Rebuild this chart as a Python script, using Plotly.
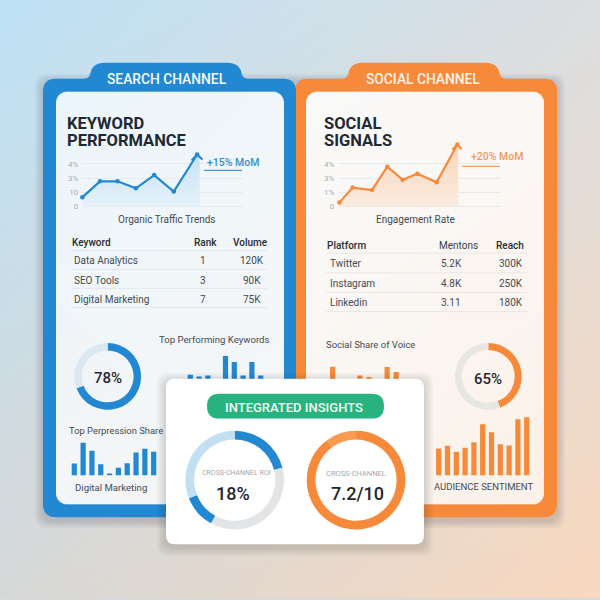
import base64, struct, zlib
import numpy as np
import plotly.graph_objects as go

# ---------- data ----------
BLUE, ORANGE, GREEN = "#2288d2", "#f68a3a", "#27b27f"
search_title = ["KEYWORD", "PERFORMANCE"]
social_title = ["SOCIAL", "SIGNALS"]

search_week = [0, 0.99, 1.98, 3.01, 4.04, 5.14, 6.45]
search_trend = [0.65, 1.77, 1.77, 1.28, 2.21, 1.05, 3.65]
search_fill_week = search_week + [6.6, 6.6]
search_fill = search_trend + [3.5, 0]
search_head_x = [6.15, 6.45, 6.75]
search_head_y = [3.25, 3.65, 3.30]
search_ticks = ["0", "10", "3%", "4%"]

social_week = [0.06, 0.86, 2.02, 2.94, 3.86, 4.74, 5.9, 7.14]
social_trend = [0.28, 1.33, 1.16, 2.79, 1.88, 2.30, 1.70, 4.35]
social_fill_week = social_week + [7.2, 7.2]
social_fill = social_trend + [4.2, 0]
social_head_x = [6.85, 7.14, 7.4]
social_head_y = [3.98, 4.35, 4.02]
social_ticks = ["0", "1%", "3%", "4%"]

search_head = ["Keyword", "Rank", "Volume"]
search_rows = [["Data Analytics", "1", "120K"], ["SEO Tools", "3", "90K"], ["Digital Marketing", "7", "75K"]]
social_head = ["Platform", "Mentons", "Reach"]
social_rows = [["Twitter", "5.2K", "300K"], ["Instagram", "4.8K", "250K"], ["Linkedin", "3.11", "180K"]]

top_keywords = [16, 14.3, 15.3, 0, 34.7, 28.7, 15.3, 28.7, 15.3]
perpression = [12, 32.7, 24.7, 11.3, 2, 7.7, 12.3, 23, 26.7, 23.7]
share_voice = [24, 0, 0, 15.3, 13.7, 0, 23.7, 18.7]
sentiment = [27, 29.7, 23.7, 27.7, 33.3, 51.3, 43.3, 31.3, 30, 56.3, 58.3]

donut_search = [69.2, 30.8]
donut_social = [44.2, 55.8]
donut_roi = [21, 37, 11, 31]
donut_score = [90, 10]


# ---------- helpers ----------
def P(y):
    return 1 - y / 600


def rr(x0, y0, x1, y1, r):
    return (f"M{x0},{y0+r} Q{x0},{y0} {x0+r},{y0} L{x1-r},{y0} Q{x1},{y0} {x1},{y0+r} "
            f"L{x1},{y1-r} Q{x1},{y1} {x1-r},{y1} L{x0+r},{y1} Q{x0},{y1} {x0},{y1-r} Z")


def rr_paper(x0, y0, x1, y1, r):
    fx, fy = (lambda v: v / 600), P
    return (f"M{fx(x0)},{fy(y0+r)} Q{fx(x0)},{fy(y0)} {fx(x0+r)},{fy(y0)} L{fx(x1-r)},{fy(y0)} "
            f"Q{fx(x1)},{fy(y0)} {fx(x1)},{fy(y0+r)} L{fx(x1)},{fy(y1-r)} Q{fx(x1)},{fy(y1)} {fx(x1-r)},{fy(y1)} "
            f"L{fx(x0+r)},{fy(y1)} Q{fx(x0)},{fy(y1)} {fx(x0)},{fy(y1-r)} Z")


def card_path(x0, y0, x1, y1, tx0, tx1, ty, r=13, tr=15, fl=6):
    fx, fy = (lambda v: v / 600), P
    pts = [("M", x0, y0 + r), ("Q", x0, y0, x0 + r, y0), ("L", tx0 - fl, y0), ("Q", tx0, y0, tx0, y0 - fl),
           ("L", tx0, ty + tr), ("Q", tx0, ty, tx0 + tr, ty), ("L", tx1 - tr, ty), ("Q", tx1, ty, tx1, ty + tr),
           ("L", tx1, y0 - fl), ("Q", tx1, y0, tx1 + fl, y0), ("L", x1 - r, y0), ("Q", x1, y0, x1, y0 + r),
           ("L", x1, y1 - r), ("Q", x1, y1, x1 - r, y1), ("L", x0 + r, y1), ("Q", x0, y1, x0, y1 - r)]
    s = ""
    for p in pts:
        c = p[1:]
        s += p[0] + " ".join(f"{fx(c[i])},{fy(c[i+1])}" for i in range(0, len(c), 2)) + " "
    return s + "Z"


def png_uri(rgba):
    h, w = rgba.shape[:2]
    raw = b"".join(b"\x00" + rgba[i].tobytes() for i in range(h))

    def chunk(t, d):
        c = struct.pack(">I", len(d)) + t + d
        return c + struct.pack(">I", zlib.crc32(t + d) & 0xffffffff)
    data = b"\x89PNG\r\n\x1a\n" + chunk(b"IHDR", struct.pack(">IIBBBBB", w, h, 8, 6, 0, 0, 0)) \
        + chunk(b"IDAT", zlib.compress(raw)) + chunk(b"IEND", b"")
    return "data:image/png;base64," + base64.b64encode(data).decode()


def gradient(w, h, tl, tr, bl, br, radius=0):
    S = 3
    W, H = w * S, h * S
    xx, yy = np.meshgrid((np.arange(W) + .5) / W, (np.arange(H) + .5) / H)
    arr = np.zeros((H, W, 4))
    for i in range(3):
        arr[..., i] = (tl[i] * (1 - xx) * (1 - yy) + tr[i] * xx * (1 - yy) + bl[i] * (1 - xx) * yy + br[i] * xx * yy)
    a = np.ones((H, W))
    if radius:
        R = radius * S
        dx = np.maximum(np.abs(xx * W - W / 2) - (W / 2 - R), 0)
        dy = np.maximum(np.abs(yy * H - H / 2) - (H / 2 - R), 0)
        a = np.clip(R - np.hypot(dx, dy) + .5, 0, 1)
    arr[..., 3] = a * 255
    return png_uri(arr.round().astype(np.uint8))


FONT = "Roboto, Arial, sans-serif"
ann = []


def T(x, y, s, size=10, color="#3f464d", weight=400, anchor="center"):
    ann.append(dict(x=x / 600, y=P(y + 1), xref="paper", yref="paper", text=s, showarrow=False, xanchor=anchor,
                    yanchor="middle", font=dict(family=FONT, size=size, color=color, weight=weight),
                    borderpad=0, borderwidth=0, align="left"))


def title(x, y, lines):
    # one text block: base size sets the 17.3px line pitch, the span sets the glyph size
    s = "<br>".join(f'<span style="font-size:16.5px">{t}</span>' for t in lines)
    ann.append(dict(x=x / 600, y=P(y), xref="paper", yref="paper", text=s, showarrow=False, xanchor="left",
                    yanchor="middle", font=dict(family=FONT, size=13.3, color="#1f2933", weight=700),
                    borderpad=0, borderwidth=0, align="left"))


shapes = []


def shadow(path_fn, dy, n=5, spread=1.6, op=0.035):
    for i in range(n):
        shapes.append(dict(type="path", path=path_fn(spread * (n - i), dy), xref="paper", yref="paper",
                           fillcolor=f"rgba(40,40,50,{op})", line_width=0, layer="below"))


def hline(x0, x1, y, color, w=1):
    shapes.append(dict(type="line", x0=x0, x1=x1, y0=y, y1=y, xref="x", yref="y",
                       line=dict(color=color, width=w), layer="between"))


# card shadows + cards
shadow(lambda s, d: rr_paper(43 - s, 79 - s + d, 557 + s, 519 + s + d, 13), 3)
shapes.append(dict(type="path", path=card_path(295, 79, 557, 519, 348, 500, 63), xref="paper", yref="paper",
                   fillcolor=ORANGE, line_width=0, layer="below"))
shapes.append(dict(type="path", path=card_path(43, 79, 296, 519, 90, 242, 63), xref="paper", yref="paper",
                   fillcolor=BLUE, line_width=0, layer="below"))

fig = go.Figure()

# Trace/axes builders ---------------------------------------------------------
layout_axes = {}


def add_axes(n, x0, x1, ytop, ybot, xr, yr, **yextra):
    sx = "" if n == 1 else str(n)
    layout_axes[f"xaxis{sx}"] = dict(domain=[x0 / 600, x1 / 600], range=xr, visible=False, anchor=f"y{sx}",
                                     fixedrange=True)
    ya = dict(domain=[P(ybot), P(ytop)], range=yr, visible=False, anchor=f"x{sx}", fixedrange=True)
    ya.update(yextra)
    layout_axes[f"yaxis{sx}"] = ya
    return f"x{sx}", f"y{sx}"


# 1: backdrop page (panel gradients)
xa, ya = add_axes(1, 0, 600, 0, 600, [0, 600], [600, 0])
fig.add_trace(go.Scatter(x=[None], y=[None], xaxis=xa, yaxis=ya, showlegend=False, hoverinfo="skip"))
images = [
    dict(source=gradient(600, 600, (190, 226, 246), (220, 222, 224), (214, 216, 216), (249, 216, 190)),
         xref="paper", yref="paper", x=0, y=1, sizex=1, sizey=1, xanchor="left", yanchor="top",
         sizing="stretch", layer="below"),
    dict(source=gradient(228, 414, (236, 246, 252), (240, 246, 250), (244, 245, 246), (246, 246, 246), 11),
         xref=xa, yref=ya, x=56, y=92, sizex=228, sizey=414, xanchor="left", yanchor="top",
         sizing="stretch", layer="below"),
    dict(source=gradient(238, 414, (250, 250, 250), (251, 248, 246), (250, 245, 240), (251, 241, 232), 11),
         xref=xa, yref=ya, x=306, y=92, sizex=238, sizey=414, xanchor="left", yanchor="top",
         sizing="stretch", layer="below"),
]


def line_chart(n, x0, x1, xr, week, trend, fw, ff, hx, hy, ticks, tvals, color, c1, c2):
    y0, pxu = 207.3, 14.33
    xa, ya = add_axes(n, x0, x1, y0 - 5 * pxu, y0 + .2 * pxu, xr, [-0.2, 5], visible=True, showline=False,
                      zeroline=False, showgrid=True, gridcolor="#e5eaed", gridwidth=1, tickvals=tvals,
                      ticktext=ticks, ticks="", ticklabelstandoff=3,
                      tickfont=dict(family=FONT, size=8, color="#a8aeb2"))
    fig.add_trace(go.Scatter(x=fw, y=ff, xaxis=xa, yaxis=ya, mode="none", fill="tozeroy", showlegend=False,
                             hoverinfo="skip",
                             fillgradient=dict(type="vertical", colorscale=[[0, c2], [1, c1]])))
    fig.add_trace(go.Scatter(x=week, y=trend, xaxis=xa, yaxis=ya, mode="lines+markers", showlegend=False,
                             line=dict(color=color, width=2.2), marker=dict(color=color, size=4.5),
                             hoverinfo="skip", cliponaxis=False))
    fig.add_trace(go.Scatter(x=hx, y=hy, xaxis=xa, yaxis=ya, mode="lines", showlegend=False,
                             line=dict(color=color, width=2.2), hoverinfo="skip", cliponaxis=False))


line_chart(2, 82.3, 243, [0, 9.03], search_week, search_trend, search_fill_week, search_fill,
           search_head_x, search_head_y, search_ticks, [0, 1, 2, 3], BLUE, "#c6e2f4", "#e6f2fa")
line_chart(3, 338.3, 500, [0, 9.7], social_week, social_trend, social_fill_week, social_fill,
           social_head_x, social_head_y, social_ticks, [0, 1, 2, 3], ORANGE, "#fad6bc", "#fbebdf")


def bars(n, cx0, step, ybase, ytop, vals, color, width=5.2):
    x0, x1 = cx0 - step, cx0 + step * len(vals)
    xa, ya = add_axes(n, x0, x1, ytop, ybase, [-1, len(vals)], [0, ybase - ytop])
    fig.add_trace(go.Bar(x=list(range(len(vals))), y=vals, xaxis=xa, yaxis=ya, marker=dict(color=color, line_width=0),
                         width=width / step, showlegend=False, hoverinfo="skip"))


bars(4, 190.3, 8.8, 392, 345, top_keywords, BLUE)
bars(5, 74.3, 8.82, 477, 435, perpression, BLUE)
bars(6, 332.7, 9.07, 392, 345, share_voice, ORANGE)
bars(7, 438.7, 8.8, 477, 415, sentiment, ORANGE)

# 8: overlay page carrying the white insights card (above all bars, below pies)
xa, ya = add_axes(8, 0, 600, 0, 600, [0, 600], [600, 0])
fig.add_trace(go.Scatter(x=[None], y=[None], xaxis=xa, yaxis=ya, showlegend=False, hoverinfo="skip"))
for i in range(6):
    s = 1.5 * (6 - i)
    shapes.append(dict(type="path", path=rr(166 - s, 380 - s + 3, 424 + s, 546 + s + 3, 10), xref=xa, yref=ya,
                       fillcolor="rgba(40,40,50,0.028)", line_width=0, layer="between"))
shapes.append(dict(type="path", path=rr(166, 380, 424, 546, 9), xref=xa, yref=ya, fillcolor="#ffffff",
                   line_width=0, layer="between"))
shapes.append(dict(type="path", path=rr(207, 395, 384, 420, 12.5), xref=xa, yref=ya, fillcolor=GREEN,
                   line_width=0, layer="between"))


def donut(cx, cy, R, r, vals, colors):
    fig.add_trace(go.Pie(values=vals, hole=r / R, sort=False, direction="clockwise", rotation=0,
                         marker=dict(colors=colors, line_width=0), textinfo="none", showlegend=False,
                         hoverinfo="skip",
                         domain=dict(x=[(cx - R) / 600, (cx + R) / 600], y=[P(cy + R), P(cy - R)])))


donut(107.7, 377.7, 33.5, 26, donut_search, [BLUE, "#d9e8f1"])
donut(488.3, 377.7, 33.5, 26.5, donut_social, [ORANGE, "#e8e6e3"])
donut(234.7, 481.7, 49.5, 40.7, donut_roi, [BLUE, "#e2e4e5", BLUE, "#c2e0f2"])
donut(356, 481.7, 49.5, 40.7, donut_score, [ORANGE, "#f89a52"])

# ---------- text ----------
T(166.7, 78.3, "SEARCH CHANNEL", 13.8, "#f4f9fd", 500)
T(423.3, 78.3, "SOCIAL CHANNEL", 13.8, "#fdf3ea", 500)
title(66.7, 132.4, search_title)
title(324, 132.4, social_title)
T(233, 161.7, "+15% MoM", 10.5, "#3a8fcb", 500)
T(497, 155.7, "+20% MoM", 10.5, "#ee9a5f", 500)
hline(204, 242, 171, "#4a9ad2", 1.3)
hline(462, 500, 167, "#f0a06a", 1.3)
T(166.7, 219, "Organic Traffic Trends", 10, "#444b52")
T(415.7, 219, "Engagement Rate", 10, "#444b52")

# tables
T(71.7, 242, search_head[0], 10, "#262d33", 500, "left")
T(205.7, 242, search_head[1], 10, "#262d33", 500)
T(250, 242, search_head[2], 10, "#262d33", 500)
hline(70.7, 267, 251.3, "#e2e6e9")
for row, y, ly in zip(search_rows, [260.7, 280, 299.3], [270.3, 289.3, 308.3]):
    T(74.3, y, row[0], 10, "#444b52", 400, "left")
    T(202.7, y, row[1], 10, "#444b52")
    T(252, y, row[2], 10, "#444b52")
    hline(70.7, 267, ly, "#e2e6e9")
T(326.7, 245, social_head[0], 10, "#262d33", 500, "left")
T(458.3, 245, social_head[1], 10, "#3a4147", 400)
T(509.7, 245, social_head[2], 10, "#262d33", 500)
hline(326, 527, 254, "#e8e7e5")
for row, y, ly in zip(social_rows, [263.7, 283.3, 303], [273.7, 293.3, 312.7]):
    T(330, y, row[0], 10, "#444b52", 400, "left")
    T(451, y, row[1], 10, "#444b52")
    T(510.7, y, row[2], 10, "#444b52")
    hline(326, 527, ly, "#e8e7e5")

T(214, 339.3, "Top Performing Keywords", 9.6, "#444b52")
T(116, 431, "Top Perpression Share", 9.4, "#444b52")
T(110.7, 488, "Digital Marketing", 9.6, "#444b52")
T(370, 344.7, "Social Share of Voice", 9.5, "#444b52")
T(483, 487.3, "AUDIENCE SENTIMENT", 9.5, "#444b52")
T(107.7, 378.7, "78%", 15, "#23292f", 500)
T(488, 379.7, "65%", 15, "#23292f", 500)
T(294.3, 407.7, "INTEGRATED INSIGHTS", 13, "#f2fbf7", 500)
T(236, 473.7, "CROSS-CHANNEL ROI", 7, "#a4a9ad")
T(233, 494, "18%", 18, "#1f262c", 500)
T(355.7, 473.7, "CROSS-CHANNEL", 7.5, "#a4a9ad")
T(357.3, 494, "7.2/10", 18, "#1f262c", 500)

fig.update_layout(width=600, height=600, margin=dict(l=0, r=0, t=0, b=0), autosize=False, showlegend=False,
                  paper_bgcolor="#d8dada", plot_bgcolor="rgba(0,0,0,0)", shapes=shapes, annotations=ann,
                  images=images, barmode="overlay", **layout_axes)
fig.write_html("out.html", config=dict(displayModeBar=False),
               post_script="document.body.style.margin='0';document.body.style.padding='0';"
                           "document.documentElement.style.overflow='hidden';")
